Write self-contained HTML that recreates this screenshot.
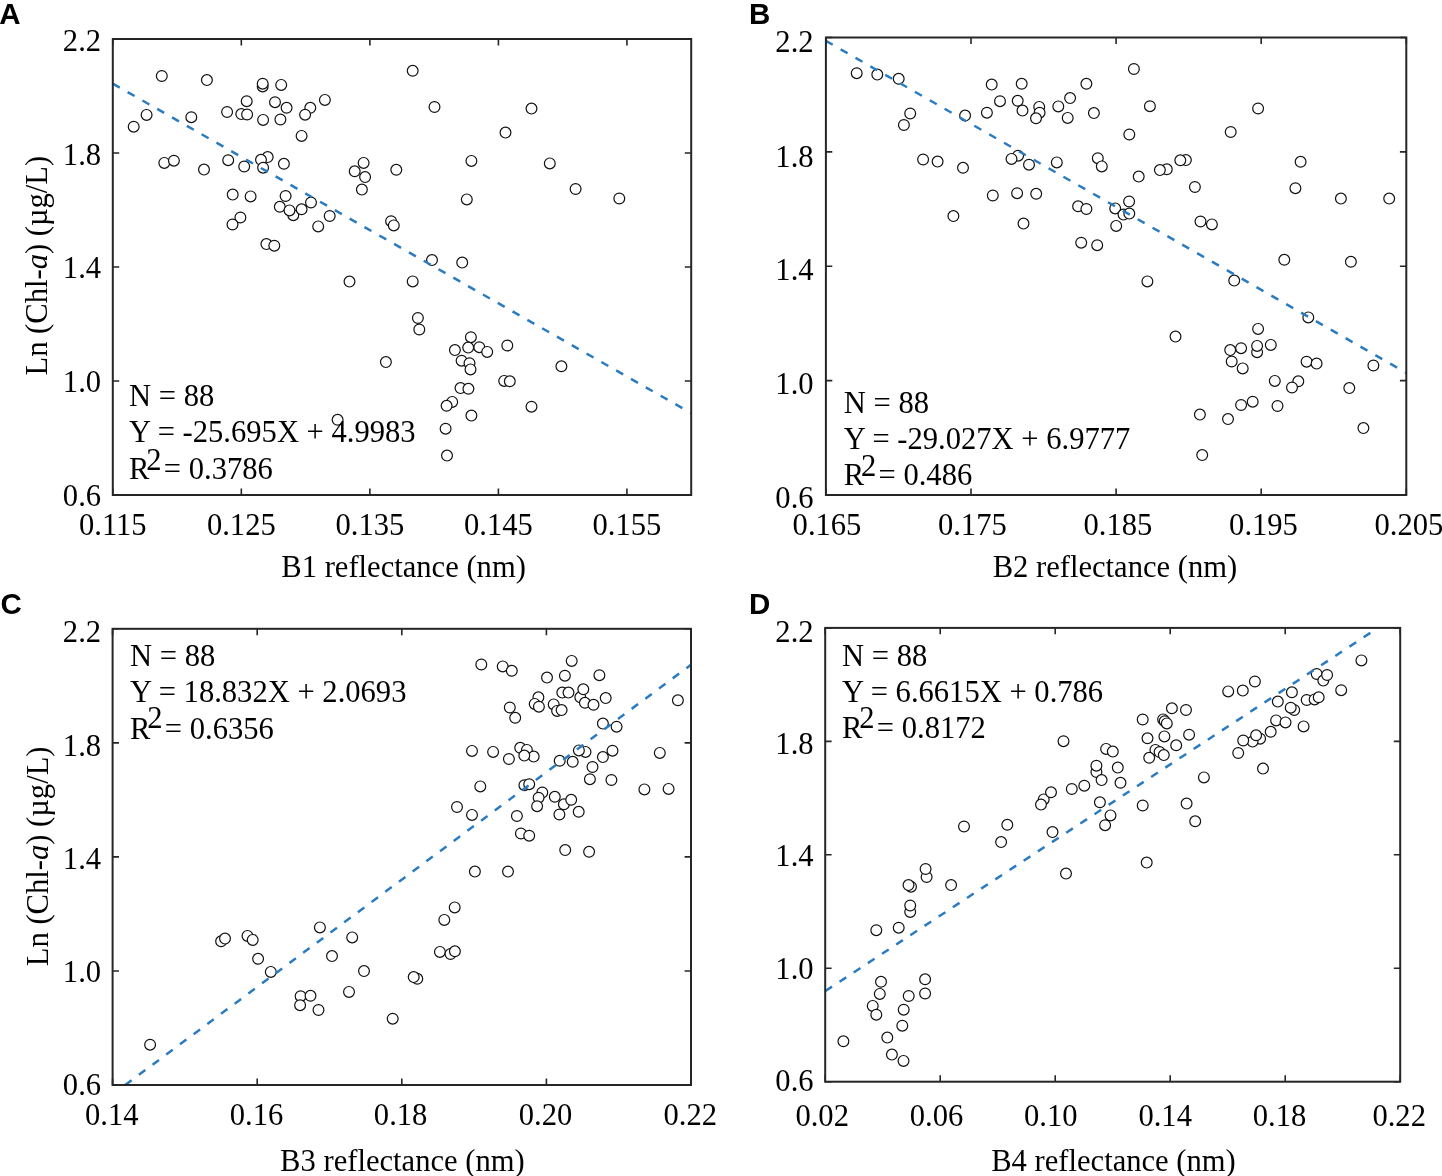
<!DOCTYPE html>
<html><head><meta charset="utf-8"><title>Chl-a regressions</title><style>
html,body{margin:0;padding:0;background:#fff;width:1442px;height:1176px;overflow:hidden}
svg{display:block;will-change:transform}
text{font-family:"Liberation Serif",serif;font-size:30.6px;fill:#000}
.p{font-family:"Liberation Sans",sans-serif;font-weight:bold;font-size:29.5px}
</style></head><body>
<svg width="1442" height="1176" viewBox="0 0 1442 1176">
<rect width="1442" height="1176" fill="#fff"/>
<!-- panel A -->
<g fill="#fff" stroke="#111" stroke-width="1.2"><circle cx="161.8" cy="76.0" r="5.4"/><circle cx="206.9" cy="80.1" r="5.4"/><circle cx="262.7" cy="86.4" r="5.4"/><circle cx="262.7" cy="83.7" r="5.4"/><circle cx="281.2" cy="84.9" r="5.4"/><circle cx="324.9" cy="99.9" r="5.4"/><circle cx="246.7" cy="101.2" r="5.4"/><circle cx="275.0" cy="102.2" r="5.4"/><circle cx="286.6" cy="107.8" r="5.4"/><circle cx="310.3" cy="107.8" r="5.4"/><circle cx="146.6" cy="114.9" r="5.4"/><circle cx="191.3" cy="117.2" r="5.4"/><circle cx="227.1" cy="112.0" r="5.4"/><circle cx="241.3" cy="114.1" r="5.4"/><circle cx="247.1" cy="114.5" r="5.4"/><circle cx="263.1" cy="119.9" r="5.4"/><circle cx="280.4" cy="119.5" r="5.4"/><circle cx="305.1" cy="114.7" r="5.4"/><circle cx="133.7" cy="126.7" r="5.4"/><circle cx="301.6" cy="135.9" r="5.4"/><circle cx="164.3" cy="162.9" r="5.4"/><circle cx="173.9" cy="160.7" r="5.4"/><circle cx="204.0" cy="169.6" r="5.4"/><circle cx="228.2" cy="160.2" r="5.4"/><circle cx="244.2" cy="166.5" r="5.4"/><circle cx="267.7" cy="157.1" r="5.4"/><circle cx="261.0" cy="159.8" r="5.4"/><circle cx="263.1" cy="167.7" r="5.4"/><circle cx="283.9" cy="163.8" r="5.4"/><circle cx="363.6" cy="162.9" r="5.4"/><circle cx="354.7" cy="171.3" r="5.4"/><circle cx="365.1" cy="177.1" r="5.4"/><circle cx="361.9" cy="189.6" r="5.4"/><circle cx="396.3" cy="169.8" r="5.4"/><circle cx="232.7" cy="194.6" r="5.4"/><circle cx="250.6" cy="196.4" r="5.4"/><circle cx="285.6" cy="196.0" r="5.4"/><circle cx="311.0" cy="202.5" r="5.4"/><circle cx="293.3" cy="215.2" r="5.4"/><circle cx="279.8" cy="206.8" r="5.4"/><circle cx="289.5" cy="210.4" r="5.4"/><circle cx="301.6" cy="209.3" r="5.4"/><circle cx="329.7" cy="216.0" r="5.4"/><circle cx="318.2" cy="226.4" r="5.4"/><circle cx="240.4" cy="217.5" r="5.4"/><circle cx="232.5" cy="224.5" r="5.4"/><circle cx="266.4" cy="244.1" r="5.4"/><circle cx="274.3" cy="245.7" r="5.4"/><circle cx="391.1" cy="221.2" r="5.4"/><circle cx="393.8" cy="225.4" r="5.4"/><circle cx="412.7" cy="70.8" r="5.4"/><circle cx="434.5" cy="107.0" r="5.4"/><circle cx="531.5" cy="108.6" r="5.4"/><circle cx="505.5" cy="132.6" r="5.4"/><circle cx="471.4" cy="160.9" r="5.4"/><circle cx="549.8" cy="163.4" r="5.4"/><circle cx="575.6" cy="189.0" r="5.4"/><circle cx="619.3" cy="198.5" r="5.4"/><circle cx="466.8" cy="199.4" r="5.4"/><circle cx="432.0" cy="260.1" r="5.4"/><circle cx="462.2" cy="262.6" r="5.4"/><circle cx="349.5" cy="281.6" r="5.4"/><circle cx="385.9" cy="362.1" r="5.4"/><circle cx="337.6" cy="419.8" r="5.4"/><circle cx="412.7" cy="281.4" r="5.4"/><circle cx="417.9" cy="318.0" r="5.4"/><circle cx="419.3" cy="329.5" r="5.4"/><circle cx="470.9" cy="337.2" r="5.4"/><circle cx="454.9" cy="350.1" r="5.4"/><circle cx="468.2" cy="347.6" r="5.4"/><circle cx="479.3" cy="347.2" r="5.4"/><circle cx="487.2" cy="351.9" r="5.4"/><circle cx="507.3" cy="345.5" r="5.4"/><circle cx="461.6" cy="360.7" r="5.4"/><circle cx="469.5" cy="363.2" r="5.4"/><circle cx="470.5" cy="369.4" r="5.4"/><circle cx="561.4" cy="366.3" r="5.4"/><circle cx="504.2" cy="380.9" r="5.4"/><circle cx="509.8" cy="381.3" r="5.4"/><circle cx="460.5" cy="388.1" r="5.4"/><circle cx="468.4" cy="388.8" r="5.4"/><circle cx="452.2" cy="401.9" r="5.4"/><circle cx="446.6" cy="405.8" r="5.4"/><circle cx="531.5" cy="406.7" r="5.4"/><circle cx="471.4" cy="415.6" r="5.4"/><circle cx="445.6" cy="428.7" r="5.4"/><circle cx="447.0" cy="455.6" r="5.4"/></g>
<line x1="112.80" y1="83.64" x2="691.20" y2="413.18" stroke="#2b7bc0" stroke-width="2.5" stroke-dasharray="8.0 9.04" stroke-dashoffset="0.00"/>
<rect x="112.8" y="39.0" width="578.40" height="456.00" fill="none" stroke="#262626" stroke-width="2"/>
<path d="M112.80 495.0v-6.4M112.80 39.0v6.4M241.33 495.0v-6.4M241.33 39.0v6.4M369.87 495.0v-6.4M369.87 39.0v6.4M498.40 495.0v-6.4M498.40 39.0v6.4M626.93 495.0v-6.4M626.93 39.0v6.4M112.8 39.00h6.4M691.2 39.00h-6.4M112.8 153.00h6.4M691.2 153.00h-6.4M112.8 267.00h6.4M691.2 267.00h-6.4M112.8 381.00h6.4M691.2 381.00h-6.4M112.8 495.00h6.4M691.2 495.00h-6.4" stroke="#262626" stroke-width="1.6" fill="none"/>
<text transform="translate(112.80 535.00) scale(1 1.045)" text-anchor="middle">0.115</text>
<text transform="translate(241.33 535.00) scale(1 1.045)" text-anchor="middle">0.125</text>
<text transform="translate(369.87 535.00) scale(1 1.045)" text-anchor="middle">0.135</text>
<text transform="translate(498.40 535.00) scale(1 1.045)" text-anchor="middle">0.145</text>
<text transform="translate(626.93 535.00) scale(1 1.045)" text-anchor="middle">0.155</text>
<text transform="translate(101.10 50.55) scale(1 1.045)" text-anchor="end">2.2</text>
<text transform="translate(101.10 164.65) scale(1 1.045)" text-anchor="end">1.8</text>
<text transform="translate(101.10 277.95) scale(1 1.045)" text-anchor="end">1.4</text>
<text transform="translate(101.10 392.00) scale(1 1.045)" text-anchor="end">1.0</text>
<text transform="translate(101.10 505.60) scale(1 1.045)" text-anchor="end">0.6</text>
<text transform="translate(403.60 577.30) scale(1 1.045)" text-anchor="middle">B1 reflectance (nm)</text>
<text transform="translate(47.30 265.65) rotate(-90) scale(1 1.045)" text-anchor="middle">Ln (Chl-<tspan font-style="italic">a</tspan>) (µg/L)</text>
<text transform="translate(-0.75 23.7) scale(1 1.03)" class="p">A</text>
<text transform="translate(129.10 406.10) scale(1 1.045)">N = 88</text>
<text transform="translate(129.10 442.40) scale(1 1.045)">Y = -25.695X + 4.9983</text>
<text transform="translate(129.10 478.90) scale(1 1.045)">R</text>
<text transform="translate(146.30 469.70) scale(1 1.045)">2</text>
<text transform="translate(163.80 478.90) scale(1 1.045)">= 0.3786</text>
<!-- panel B -->
<g fill="#fff" stroke="#111" stroke-width="1.2"><circle cx="856.7" cy="73.2" r="5.4"/><circle cx="877.3" cy="74.6" r="5.4"/><circle cx="898.7" cy="78.8" r="5.4"/><circle cx="910.2" cy="113.5" r="5.4"/><circle cx="903.9" cy="125.0" r="5.4"/><circle cx="991.7" cy="84.6" r="5.4"/><circle cx="1021.7" cy="83.8" r="5.4"/><circle cx="1086.4" cy="83.8" r="5.4"/><circle cx="1000.0" cy="101.2" r="5.4"/><circle cx="1017.7" cy="100.8" r="5.4"/><circle cx="1022.5" cy="110.6" r="5.4"/><circle cx="1039.2" cy="106.9" r="5.4"/><circle cx="1039.6" cy="112.7" r="5.4"/><circle cx="1036.0" cy="118.3" r="5.4"/><circle cx="1058.3" cy="106.4" r="5.4"/><circle cx="1070.1" cy="98.1" r="5.4"/><circle cx="1067.7" cy="117.9" r="5.4"/><circle cx="1093.9" cy="113.1" r="5.4"/><circle cx="986.9" cy="112.7" r="5.4"/><circle cx="965.1" cy="115.6" r="5.4"/><circle cx="923.1" cy="159.5" r="5.4"/><circle cx="937.6" cy="161.6" r="5.4"/><circle cx="963.0" cy="167.8" r="5.4"/><circle cx="1018.1" cy="155.7" r="5.4"/><circle cx="1011.5" cy="158.9" r="5.4"/><circle cx="1029.0" cy="164.7" r="5.4"/><circle cx="1056.8" cy="162.4" r="5.4"/><circle cx="1097.8" cy="158.2" r="5.4"/><circle cx="1101.8" cy="166.4" r="5.4"/><circle cx="992.8" cy="195.5" r="5.4"/><circle cx="1017.1" cy="193.2" r="5.4"/><circle cx="1036.2" cy="193.8" r="5.4"/><circle cx="953.4" cy="216.1" r="5.4"/><circle cx="1023.5" cy="223.6" r="5.4"/><circle cx="1078.1" cy="206.3" r="5.4"/><circle cx="1086.4" cy="209.0" r="5.4"/><circle cx="1081.2" cy="242.7" r="5.4"/><circle cx="1097.2" cy="245.2" r="5.4"/><circle cx="1133.9" cy="69.0" r="5.4"/><circle cx="1149.9" cy="106.2" r="5.4"/><circle cx="1258.1" cy="108.5" r="5.4"/><circle cx="1129.3" cy="134.5" r="5.4"/><circle cx="1230.7" cy="132.0" r="5.4"/><circle cx="1185.9" cy="160.1" r="5.4"/><circle cx="1180.3" cy="160.3" r="5.4"/><circle cx="1166.8" cy="169.3" r="5.4"/><circle cx="1159.9" cy="170.1" r="5.4"/><circle cx="1138.7" cy="176.6" r="5.4"/><circle cx="1300.6" cy="161.8" r="5.4"/><circle cx="1194.9" cy="187.0" r="5.4"/><circle cx="1295.4" cy="188.2" r="5.4"/><circle cx="1340.9" cy="198.6" r="5.4"/><circle cx="1389.2" cy="198.6" r="5.4"/><circle cx="1129.1" cy="201.5" r="5.4"/><circle cx="1115.2" cy="208.4" r="5.4"/><circle cx="1123.5" cy="214.6" r="5.4"/><circle cx="1129.3" cy="213.6" r="5.4"/><circle cx="1116.2" cy="225.9" r="5.4"/><circle cx="1200.5" cy="221.5" r="5.4"/><circle cx="1211.9" cy="224.4" r="5.4"/><circle cx="1284.3" cy="259.8" r="5.4"/><circle cx="1350.9" cy="261.8" r="5.4"/><circle cx="1147.4" cy="281.4" r="5.4"/><circle cx="1234.2" cy="280.6" r="5.4"/><circle cx="1175.5" cy="336.6" r="5.4"/><circle cx="1258.1" cy="328.9" r="5.4"/><circle cx="1308.3" cy="317.4" r="5.4"/><circle cx="1241.1" cy="348.2" r="5.4"/><circle cx="1257.1" cy="352.2" r="5.4"/><circle cx="1257.1" cy="345.9" r="5.4"/><circle cx="1270.8" cy="344.9" r="5.4"/><circle cx="1231.7" cy="361.5" r="5.4"/><circle cx="1230.2" cy="350.1" r="5.4"/><circle cx="1242.7" cy="368.4" r="5.4"/><circle cx="1306.6" cy="361.7" r="5.4"/><circle cx="1316.6" cy="363.6" r="5.4"/><circle cx="1373.4" cy="365.5" r="5.4"/><circle cx="1274.8" cy="380.9" r="5.4"/><circle cx="1298.3" cy="381.3" r="5.4"/><circle cx="1292.0" cy="387.5" r="5.4"/><circle cx="1349.3" cy="388.1" r="5.4"/><circle cx="1241.1" cy="405.0" r="5.4"/><circle cx="1252.7" cy="401.7" r="5.4"/><circle cx="1277.5" cy="406.0" r="5.4"/><circle cx="1199.9" cy="414.6" r="5.4"/><circle cx="1228.0" cy="419.1" r="5.4"/><circle cx="1363.4" cy="428.1" r="5.4"/><circle cx="1202.2" cy="455.1" r="5.4"/></g>
<line x1="825.90" y1="40.86" x2="1406.30" y2="372.86" stroke="#2b7bc0" stroke-width="2.5" stroke-dasharray="8.0 9.11" stroke-dashoffset="0.10"/>
<rect x="825.9" y="37.5" width="580.40" height="457.50" fill="none" stroke="#262626" stroke-width="2"/>
<path d="M825.90 495.0v-6.4M825.90 37.5v6.4M971.00 495.0v-6.4M971.00 37.5v6.4M1116.10 495.0v-6.4M1116.10 37.5v6.4M1261.20 495.0v-6.4M1261.20 37.5v6.4M1406.30 495.0v-6.4M1406.30 37.5v6.4M825.9 37.50h6.4M1406.3 37.50h-6.4M825.9 151.87h6.4M1406.3 151.87h-6.4M825.9 266.25h6.4M1406.3 266.25h-6.4M825.9 380.62h6.4M1406.3 380.62h-6.4M825.9 495.00h6.4M1406.3 495.00h-6.4" stroke="#262626" stroke-width="1.6" fill="none"/>
<text transform="translate(827.00 535.10) scale(1 1.045)" text-anchor="middle">0.165</text>
<text transform="translate(972.30 535.10) scale(1 1.045)" text-anchor="middle">0.175</text>
<text transform="translate(1117.90 535.10) scale(1 1.045)" text-anchor="middle">0.185</text>
<text transform="translate(1263.50 535.10) scale(1 1.045)" text-anchor="middle">0.195</text>
<text transform="translate(1408.90 535.10) scale(1 1.045)" text-anchor="middle">0.205</text>
<text transform="translate(813.60 52.30) scale(1 1.045)" text-anchor="end">2.2</text>
<text transform="translate(813.60 166.55) scale(1 1.045)" text-anchor="end">1.8</text>
<text transform="translate(813.60 279.90) scale(1 1.045)" text-anchor="end">1.4</text>
<text transform="translate(813.60 394.10) scale(1 1.045)" text-anchor="end">1.0</text>
<text transform="translate(813.60 508.10) scale(1 1.045)" text-anchor="end">0.6</text>
<text transform="translate(1114.95 577.30) scale(1 1.045)" text-anchor="middle">B2 reflectance (nm)</text>
<text transform="translate(749.1 23.7) scale(1 1.03)" class="p">B</text>
<text transform="translate(843.80 412.50) scale(1 1.045)">N = 88</text>
<text transform="translate(843.80 449.00) scale(1 1.045)">Y = -29.027X + 6.9777</text>
<text transform="translate(843.80 485.40) scale(1 1.045)">R</text>
<text transform="translate(861.00 475.80) scale(1 1.045)">2</text>
<text transform="translate(878.50 485.40) scale(1 1.045)">= 0.486</text>
<!-- panel C -->
<g fill="#fff" stroke="#111" stroke-width="1.2"><circle cx="481.3" cy="664.5" r="5.4"/><circle cx="677.9" cy="700.3" r="5.4"/><circle cx="659.8" cy="752.9" r="5.4"/><circle cx="644.4" cy="789.4" r="5.4"/><circle cx="668.6" cy="788.9" r="5.4"/><circle cx="472.0" cy="750.9" r="5.4"/><circle cx="480.3" cy="786.4" r="5.4"/><circle cx="524.4" cy="785.2" r="5.4"/><circle cx="529.2" cy="784.2" r="5.4"/><circle cx="542.3" cy="792.5" r="5.4"/><circle cx="538.6" cy="797.7" r="5.4"/><circle cx="537.1" cy="806.2" r="5.4"/><circle cx="554.8" cy="796.8" r="5.4"/><circle cx="563.9" cy="804.3" r="5.4"/><circle cx="571.2" cy="799.8" r="5.4"/><circle cx="559.4" cy="814.5" r="5.4"/><circle cx="578.7" cy="811.8" r="5.4"/><circle cx="516.9" cy="816.0" r="5.4"/><circle cx="457.0" cy="807.0" r="5.4"/><circle cx="472.0" cy="814.9" r="5.4"/><circle cx="520.9" cy="833.5" r="5.4"/><circle cx="529.2" cy="835.7" r="5.4"/><circle cx="565.2" cy="850.1" r="5.4"/><circle cx="589.1" cy="851.8" r="5.4"/><circle cx="589.9" cy="779.2" r="5.4"/><circle cx="611.4" cy="780.0" r="5.4"/><circle cx="502.7" cy="666.4" r="5.4"/><circle cx="511.8" cy="670.8" r="5.4"/><circle cx="571.7" cy="660.9" r="5.4"/><circle cx="547.0" cy="677.6" r="5.4"/><circle cx="564.9" cy="675.7" r="5.4"/><circle cx="599.4" cy="675.2" r="5.4"/><circle cx="580.3" cy="697.3" r="5.4"/><circle cx="583.3" cy="689.3" r="5.4"/><circle cx="584.9" cy="702.8" r="5.4"/><circle cx="593.5" cy="704.8" r="5.4"/><circle cx="562.3" cy="692.6" r="5.4"/><circle cx="568.5" cy="692.6" r="5.4"/><circle cx="605.7" cy="698.1" r="5.4"/><circle cx="538.4" cy="697.3" r="5.4"/><circle cx="534.7" cy="703.9" r="5.4"/><circle cx="538.9" cy="706.7" r="5.4"/><circle cx="553.7" cy="704.4" r="5.4"/><circle cx="557.1" cy="710.9" r="5.4"/><circle cx="561.6" cy="710.1" r="5.4"/><circle cx="509.8" cy="707.5" r="5.4"/><circle cx="515.2" cy="717.8" r="5.4"/><circle cx="602.9" cy="723.6" r="5.4"/><circle cx="616.6" cy="726.7" r="5.4"/><circle cx="493.1" cy="751.9" r="5.4"/><circle cx="508.9" cy="759.0" r="5.4"/><circle cx="520.2" cy="747.8" r="5.4"/><circle cx="526.9" cy="749.9" r="5.4"/><circle cx="533.7" cy="756.6" r="5.4"/><circle cx="524.3" cy="755.6" r="5.4"/><circle cx="559.7" cy="760.8" r="5.4"/><circle cx="572.7" cy="761.8" r="5.4"/><circle cx="585.5" cy="751.9" r="5.4"/><circle cx="578.9" cy="750.4" r="5.4"/><circle cx="602.9" cy="757.1" r="5.4"/><circle cx="612.5" cy="750.7" r="5.4"/><circle cx="592.5" cy="767.0" r="5.4"/><circle cx="221.1" cy="941.3" r="5.4"/><circle cx="225.0" cy="938.6" r="5.4"/><circle cx="247.5" cy="935.9" r="5.4"/><circle cx="252.7" cy="939.9" r="5.4"/><circle cx="258.1" cy="958.8" r="5.4"/><circle cx="270.8" cy="971.9" r="5.4"/><circle cx="319.9" cy="927.4" r="5.4"/><circle cx="352.2" cy="937.4" r="5.4"/><circle cx="332.0" cy="956.1" r="5.4"/><circle cx="364.0" cy="971.1" r="5.4"/><circle cx="300.6" cy="996.2" r="5.4"/><circle cx="310.5" cy="995.8" r="5.4"/><circle cx="300.1" cy="1005.2" r="5.4"/><circle cx="318.5" cy="1010.0" r="5.4"/><circle cx="349.0" cy="991.9" r="5.4"/><circle cx="392.7" cy="1018.7" r="5.4"/><circle cx="150.1" cy="1044.7" r="5.4"/><circle cx="474.9" cy="871.6" r="5.4"/><circle cx="508.0" cy="871.6" r="5.4"/><circle cx="454.7" cy="907.4" r="5.4"/><circle cx="444.3" cy="919.9" r="5.4"/><circle cx="439.9" cy="951.9" r="5.4"/><circle cx="450.5" cy="954.0" r="5.4"/><circle cx="454.9" cy="951.3" r="5.4"/><circle cx="417.3" cy="978.8" r="5.4"/><circle cx="413.7" cy="977.1" r="5.4"/></g>
<line x1="125.20" y1="1085.00" x2="691.00" y2="664.80" stroke="#2b7bc0" stroke-width="2.5" stroke-dasharray="8.0 9.05" stroke-dashoffset="0.00"/>
<rect x="112.6" y="628.8" width="578.40" height="456.20" fill="none" stroke="#262626" stroke-width="2"/>
<path d="M112.60 1085.0v-6.4M112.60 628.8v6.4M257.20 1085.0v-6.4M257.20 628.8v6.4M401.80 1085.0v-6.4M401.80 628.8v6.4M546.40 1085.0v-6.4M546.40 628.8v6.4M691.00 1085.0v-6.4M691.00 628.8v6.4M112.6 628.80h6.4M691.0 628.80h-6.4M112.6 742.85h6.4M691.0 742.85h-6.4M112.6 856.90h6.4M691.0 856.90h-6.4M112.6 970.95h6.4M691.0 970.95h-6.4M112.6 1085.00h6.4M691.0 1085.00h-6.4" stroke="#262626" stroke-width="1.6" fill="none"/>
<text transform="translate(111.80 1125.40) scale(1 1.045)" text-anchor="middle">0.14</text>
<text transform="translate(256.50 1125.40) scale(1 1.045)" text-anchor="middle">0.16</text>
<text transform="translate(400.60 1125.40) scale(1 1.045)" text-anchor="middle">0.18</text>
<text transform="translate(545.50 1125.40) scale(1 1.045)" text-anchor="middle">0.20</text>
<text transform="translate(690.30 1125.40) scale(1 1.045)" text-anchor="middle">0.22</text>
<text transform="translate(101.10 641.80) scale(1 1.045)" text-anchor="end">2.2</text>
<text transform="translate(101.10 755.90) scale(1 1.045)" text-anchor="end">1.8</text>
<text transform="translate(101.10 868.60) scale(1 1.045)" text-anchor="end">1.4</text>
<text transform="translate(101.10 982.10) scale(1 1.045)" text-anchor="end">1.0</text>
<text transform="translate(101.10 1095.15) scale(1 1.045)" text-anchor="end">0.6</text>
<text transform="translate(402.40 1171.00) scale(1 1.045)" text-anchor="middle">B3 reflectance (nm)</text>
<text transform="translate(47.60 856.35) rotate(-90) scale(1 1.045)" text-anchor="middle">Ln (Chl-<tspan font-style="italic">a</tspan>) (µg/L)</text>
<text transform="translate(0.5 614.0) scale(1 1.03)" class="p">C</text>
<text transform="translate(130.10 665.70) scale(1 1.045)">N = 88</text>
<text transform="translate(130.10 702.10) scale(1 1.045)">Y = 18.832X + 2.0693</text>
<text transform="translate(130.10 738.60) scale(1 1.045)">R</text>
<text transform="translate(147.30 727.90) scale(1 1.045)">2</text>
<text transform="translate(164.80 738.60) scale(1 1.045)">= 0.6356</text>
<!-- panel D -->
<g fill="#fff" stroke="#111" stroke-width="1.2"><circle cx="1063.5" cy="741.2" r="5.4"/><circle cx="1106.1" cy="748.9" r="5.4"/><circle cx="1096.4" cy="772.0" r="5.4"/><circle cx="1096.4" cy="765.7" r="5.4"/><circle cx="1101.6" cy="780.1" r="5.4"/><circle cx="1071.8" cy="789.0" r="5.4"/><circle cx="1084.3" cy="785.7" r="5.4"/><circle cx="1043.7" cy="799.4" r="5.4"/><circle cx="1041.0" cy="804.6" r="5.4"/><circle cx="1051.0" cy="792.3" r="5.4"/><circle cx="1099.9" cy="802.3" r="5.4"/><circle cx="1105.1" cy="825.2" r="5.4"/><circle cx="1052.5" cy="832.1" r="5.4"/><circle cx="1007.3" cy="824.8" r="5.4"/><circle cx="964.0" cy="826.5" r="5.4"/><circle cx="1001.1" cy="842.1" r="5.4"/><circle cx="1361.4" cy="660.4" r="5.4"/><circle cx="1316.7" cy="674.0" r="5.4"/><circle cx="1323.3" cy="680.6" r="5.4"/><circle cx="1327.1" cy="675.0" r="5.4"/><circle cx="1341.2" cy="690.2" r="5.4"/><circle cx="1254.9" cy="681.5" r="5.4"/><circle cx="1228.2" cy="691.4" r="5.4"/><circle cx="1242.8" cy="690.6" r="5.4"/><circle cx="1291.9" cy="692.3" r="5.4"/><circle cx="1277.8" cy="701.6" r="5.4"/><circle cx="1306.7" cy="700.0" r="5.4"/><circle cx="1314.6" cy="699.4" r="5.4"/><circle cx="1318.7" cy="697.3" r="5.4"/><circle cx="1294.2" cy="710.0" r="5.4"/><circle cx="1290.7" cy="707.7" r="5.4"/><circle cx="1276.1" cy="720.4" r="5.4"/><circle cx="1285.5" cy="722.4" r="5.4"/><circle cx="1303.6" cy="726.4" r="5.4"/><circle cx="1270.7" cy="731.8" r="5.4"/><circle cx="1260.1" cy="738.7" r="5.4"/><circle cx="1252.6" cy="741.6" r="5.4"/><circle cx="1256.1" cy="735.3" r="5.4"/><circle cx="1243.2" cy="740.5" r="5.4"/><circle cx="1238.2" cy="753.0" r="5.4"/><circle cx="1263.0" cy="768.6" r="5.4"/><circle cx="1171.9" cy="708.3" r="5.4"/><circle cx="1186.0" cy="710.0" r="5.4"/><circle cx="1142.7" cy="719.5" r="5.4"/><circle cx="1147.5" cy="738.3" r="5.4"/><circle cx="1164.4" cy="736.4" r="5.4"/><circle cx="1189.1" cy="734.7" r="5.4"/><circle cx="1176.2" cy="745.3" r="5.4"/><circle cx="1155.4" cy="749.9" r="5.4"/><circle cx="1159.6" cy="752.0" r="5.4"/><circle cx="1163.8" cy="755.1" r="5.4"/><circle cx="1149.2" cy="757.8" r="5.4"/><circle cx="1112.8" cy="751.6" r="5.4"/><circle cx="1117.8" cy="767.6" r="5.4"/><circle cx="1120.5" cy="782.8" r="5.4"/><circle cx="1203.9" cy="777.4" r="5.4"/><circle cx="1142.7" cy="805.5" r="5.4"/><circle cx="1186.6" cy="803.6" r="5.4"/><circle cx="1195.2" cy="821.3" r="5.4"/><circle cx="1110.5" cy="815.4" r="5.4"/><circle cx="1163.1" cy="719.4" r="5.4"/><circle cx="1164.7" cy="721.2" r="5.4"/><circle cx="1166.8" cy="723.4" r="5.4"/><circle cx="1066.0" cy="873.6" r="5.4"/><circle cx="926.6" cy="877.0" r="5.4"/><circle cx="925.6" cy="869.0" r="5.4"/><circle cx="911.0" cy="886.7" r="5.4"/><circle cx="908.5" cy="885.1" r="5.4"/><circle cx="951.1" cy="885.1" r="5.4"/><circle cx="910.2" cy="911.9" r="5.4"/><circle cx="910.2" cy="905.5" r="5.4"/><circle cx="876.3" cy="930.2" r="5.4"/><circle cx="898.7" cy="927.7" r="5.4"/><circle cx="881.0" cy="981.8" r="5.4"/><circle cx="879.8" cy="993.9" r="5.4"/><circle cx="925.1" cy="979.3" r="5.4"/><circle cx="925.1" cy="993.5" r="5.4"/><circle cx="908.7" cy="996.0" r="5.4"/><circle cx="872.7" cy="1005.9" r="5.4"/><circle cx="876.3" cy="1014.7" r="5.4"/><circle cx="903.7" cy="1009.7" r="5.4"/><circle cx="902.3" cy="1025.7" r="5.4"/><circle cx="887.3" cy="1037.6" r="5.4"/><circle cx="843.4" cy="1041.3" r="5.4"/><circle cx="891.9" cy="1054.6" r="5.4"/><circle cx="903.5" cy="1060.9" r="5.4"/><circle cx="1146.7" cy="862.6" r="5.4"/></g>
<line x1="825.20" y1="991.16" x2="1377.96" y2="627.90" stroke="#2b7bc0" stroke-width="2.5" stroke-dasharray="8.0 8.95" stroke-dashoffset="-0.20"/>
<rect x="825.2" y="627.9" width="575.00" height="453.80" fill="none" stroke="#262626" stroke-width="2"/>
<path d="M825.20 1081.7v-6.4M825.20 627.9v6.4M940.20 1081.7v-6.4M940.20 627.9v6.4M1055.20 1081.7v-6.4M1055.20 627.9v6.4M1170.20 1081.7v-6.4M1170.20 627.9v6.4M1285.20 1081.7v-6.4M1285.20 627.9v6.4M1400.20 1081.7v-6.4M1400.20 627.9v6.4M825.2 627.90h6.4M1400.2 627.90h-6.4M825.2 741.35h6.4M1400.2 741.35h-6.4M825.2 854.80h6.4M1400.2 854.80h-6.4M825.2 968.25h6.4M1400.2 968.25h-6.4M825.2 1081.70h6.4M1400.2 1081.70h-6.4" stroke="#262626" stroke-width="1.6" fill="none"/>
<text transform="translate(822.20 1125.50) scale(1 1.045)" text-anchor="middle">0.02</text>
<text transform="translate(936.50 1125.50) scale(1 1.045)" text-anchor="middle">0.06</text>
<text transform="translate(1050.80 1125.50) scale(1 1.045)" text-anchor="middle">0.10</text>
<text transform="translate(1165.20 1125.50) scale(1 1.045)" text-anchor="middle">0.14</text>
<text transform="translate(1279.50 1125.50) scale(1 1.045)" text-anchor="middle">0.18</text>
<text transform="translate(1399.20 1125.50) scale(1 1.045)" text-anchor="middle">0.22</text>
<text transform="translate(813.60 641.80) scale(1 1.045)" text-anchor="end">2.2</text>
<text transform="translate(813.60 754.40) scale(1 1.045)" text-anchor="end">1.8</text>
<text transform="translate(813.60 866.40) scale(1 1.045)" text-anchor="end">1.4</text>
<text transform="translate(813.60 979.10) scale(1 1.045)" text-anchor="end">1.0</text>
<text transform="translate(813.60 1091.25) scale(1 1.045)" text-anchor="end">0.6</text>
<text transform="translate(1113.50 1171.00) scale(1 1.045)" text-anchor="middle">B4 reflectance (nm)</text>
<text transform="translate(749.1 613.7) scale(1 1.03)" class="p">D</text>
<text transform="translate(842.10 665.50) scale(1 1.045)">N = 88</text>
<text transform="translate(842.10 702.00) scale(1 1.045)">Y = 6.6615X + 0.786</text>
<text transform="translate(842.10 738.40) scale(1 1.045)">R</text>
<text transform="translate(859.30 728.20) scale(1 1.045)">2</text>
<text transform="translate(876.80 738.40) scale(1 1.045)">= 0.8172</text>
</svg>
</body></html>
